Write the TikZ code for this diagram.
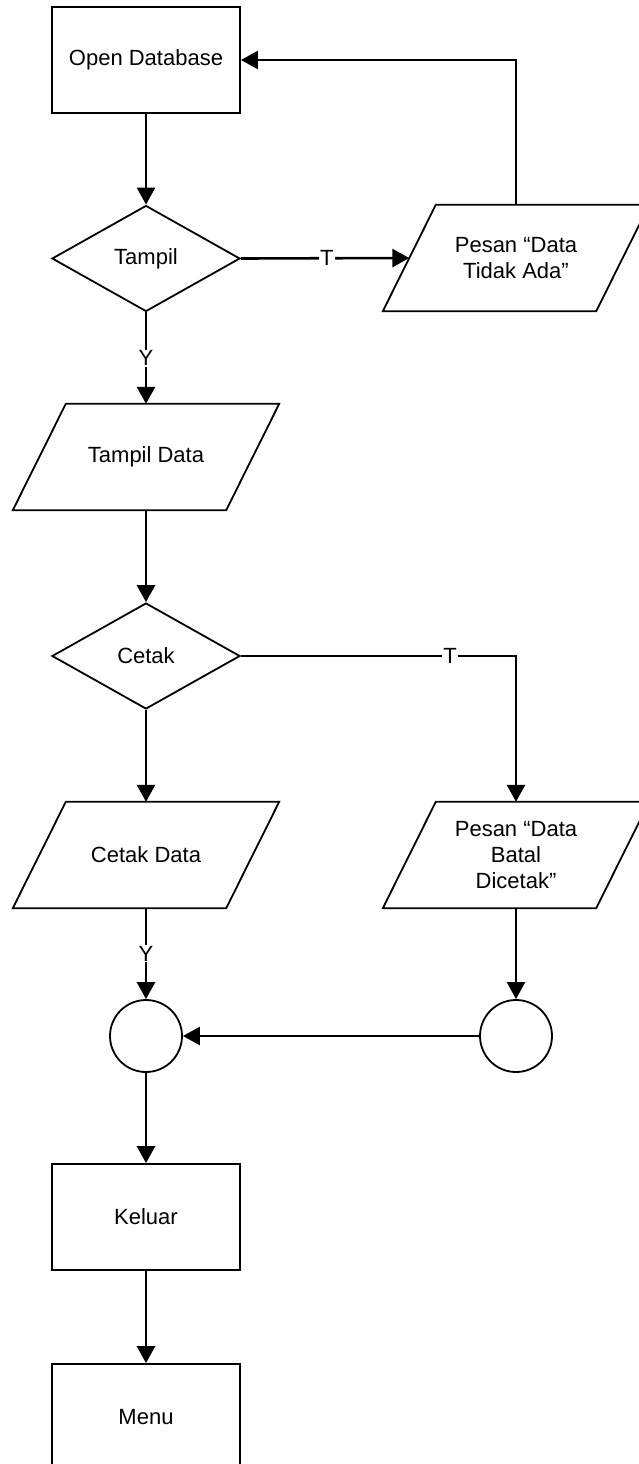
\documentclass[tikz,border=0pt]{standalone}
\usepackage{fontspec}
\setmainfont{Liberation Sans}
\usetikzlibrary{shapes.geometric,arrows.meta,calc}
\tikzset{
  base/.style={font=\fontsize{22}{26}\selectfont, align=center, text=black},
  procbox/.style={base, draw, line width=1.8pt, minimum width=188pt, minimum height=106pt, inner sep=0pt},
  decbox/.style={base, draw, diamond, aspect=1.774, line width=1.8pt, minimum width=188pt, minimum height=106pt, inner sep=0pt},
  parabox/.style={base, minimum width=213pt, minimum height=106pt, inner sep=0pt},
  paraline/.style={draw, line width=1.8pt, line join=miter},
  conbox/.style={draw, circle, line width=1.8pt, minimum size=72pt, inner sep=0pt},
  flow/.style={line width=2.6pt, -{Triangle[length=17pt,width=18pt]}},
  lbl/.style={base, fill=white, inner sep=1pt}
}
\newcommand\parashape[3]{%
  \node[parabox] (#1) at (#2) {#3};
  \draw[paraline] ($(#1.south west)+(-26.5,0)$) -- ($(#1.south east)+(-26.5,0)$)
    -- ($(#1.north east)+(26.5,0)$) -- ($(#1.north west)+(26.5,0)$) -- cycle;
}
\begin{document}
\begin{tikzpicture}[x=1pt,y=-1pt]
\useasboundingbox (0,0) rectangle (638,1464);
\node[procbox] (open) at (146,60) {Open Database};
\node[decbox] (tampil) at (146,258.5) {Tampil};
\parashape{pesan1}{516,258}{Pesan “Data\\Tidak Ada”}
\parashape{tdata}{146,457}{Tampil Data}
\node[decbox] (cetak) at (146,656) {Cetak};
\parashape{cdata}{146,855}{Cetak Data}
\parashape{pesan2}{516,855}{Pesan “Data\\Batal\\Dicetak”}
\node[conbox] (c1) at (146,1036) {};
\node[conbox] (c2) at (516,1036) {};
\node[procbox] (keluar) at (146,1217) {Keluar};
\node[procbox] (menu) at (146,1417) {Menu};

\draw[flow] (open.south) -- (tampil.north);
\draw[flow] (tampil.east) -- node[lbl, pos=0.51] {T} (pesan1.west);
\draw[flow] (pesan1.north) |- (open.east);
\draw[flow] (tampil.south) -- node[lbl] {Y} (tdata.north);
\draw[flow] (tdata.south) -- (cetak.north);
\draw[flow] (cetak.east) -| node[lbl, pos=0.38] {T} (pesan2.north);
\draw[flow] (cetak.south) -- (cdata.north);
\draw[flow] (cdata.south) -- node[lbl] {Y} (c1.north);
\draw[flow] (pesan2.south) -- (c2.north);
\draw[flow] (c2.west) -- (c1.east);
\draw[flow] (c1.south) -- (keluar.north);
\draw[flow] (keluar.south) -- (menu.north);
\end{tikzpicture}
\end{document}
